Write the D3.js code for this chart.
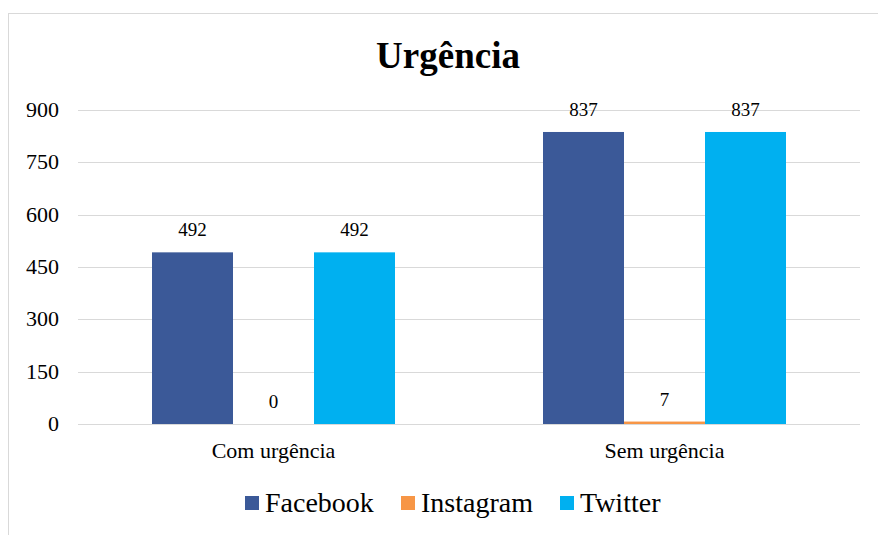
<!DOCTYPE html>
<html><head><meta charset="utf-8">
<script src="https://cdn.jsdelivr.net/npm/d3@7"></script>
<style>body{margin:0;background:#fff}svg{display:block}</style>
</head><body>
<script>
const categories = ["Com urgência", "Sem urgência"];
const seriesNames = ["Facebook", "Instagram", "Twitter"];
const facebook = [492, 837];
const instagram = [0, 7];
const twitter = [492, 837];
const yTicks = [0, 150, 300, 450, 600, 750, 900];
const colors = ["#3B5998", "#F79646", "#00B0F0"];
const seriesValues = [facebook, instagram, twitter];

(function () {
const W = 878, H = 535;
const svg = d3.select("body").append("svg").attr("width", W).attr("height", H);
const font = "'Liberation Serif','Times New Roman',serif";

// chart border (partially cropped)
svg.append("rect").attr("x", 8.5).attr("y", 13.5).attr("width", 880).attr("height", 540)
  .attr("fill", "none").attr("stroke", "#d9d9d9").attr("stroke-width", 1);

const pL = 78, pR = 860, pT = 110, pB = 424;
const x0 = d3.scaleBand().domain(categories).range([pL, pR]).paddingInner(0).paddingOuter(0);
const x1 = d3.scaleBand().domain(seriesNames).range([74, x0.bandwidth() - 74]);
const y = d3.scaleLinear().domain([0, 900]).range([pB, pT]);

// gridlines
svg.append("g").selectAll("line").data(yTicks).join("line")
  .attr("x1", pL).attr("x2", pR)
  .attr("y1", d => Math.round(y(d)) + 0.5).attr("y2", d => Math.round(y(d)) + 0.5)
  .attr("stroke", "#d9d9d9").attr("stroke-width", 1);

// y axis labels
const yAxis = d3.axisLeft(y).tickValues(yTicks).tickSize(0).tickPadding(0);
const ga = svg.append("g").attr("transform", `translate(59,0)`).call(yAxis);
ga.select(".domain").remove();
ga.selectAll("text").attr("font-family", font).attr("font-size", 22).attr("fill", "#000")
  .attr("dy", "0.3em");

// bars
const groups = svg.append("g").selectAll("g").data(categories).join("g")
  .attr("transform", d => `translate(${x0(d)},0)`);
groups.selectAll("rect").data((c, i) => seriesNames.map((s, j) => ({s, v: seriesValues[j][i], j})))
  .join("rect")
  .attr("x", d => x1(d.s)).attr("width", x1.bandwidth())
  .attr("y", d => y(d.v)).attr("height", d => y(0) - y(d.v))
  .attr("fill", d => colors[d.j]);
groups.selectAll("text").data((c, i) => seriesNames.map((s, j) => ({s, v: seriesValues[j][i], j})))
  .join("text")
  .attr("x", d => x1(d.s) + x1.bandwidth() / 2)
  .attr("y", d => y(d.v) - 16)
  .attr("text-anchor", "middle")
  .attr("font-family", font).attr("font-size", 19).attr("fill", "#000")
  .text(d => d.v);

// category labels
const xAxis = d3.axisBottom(x0).tickSize(0).tickPadding(0);
const gx = svg.append("g").attr("transform", `translate(0,${pB})`).call(xAxis);
gx.select(".domain").remove();
gx.selectAll("text").attr("font-family", font).attr("font-size", 22).attr("fill", "#000")
  .attr("dy", null).attr("y", 34);

// title
svg.append("text").attr("x", 448).attr("y", 68).attr("text-anchor", "middle")
  .attr("font-family", font).attr("font-size", 37).attr("font-weight", "bold").text("Urgência");

// legend
const legendX = [245, 401, 560];
const lg = svg.append("g").selectAll("g").data(seriesNames).join("g")
  .attr("transform", (d, i) => `translate(${legendX[i]},496)`);
lg.append("rect").attr("width", 14).attr("height", 14).attr("fill", (d, i) => colors[i]);
lg.append("text").attr("x", 20).attr("y", 16).attr("font-family", font).attr("font-size", 28)
  .attr("fill", "#000").text(d => d);
})();
</script>
</body></html>
